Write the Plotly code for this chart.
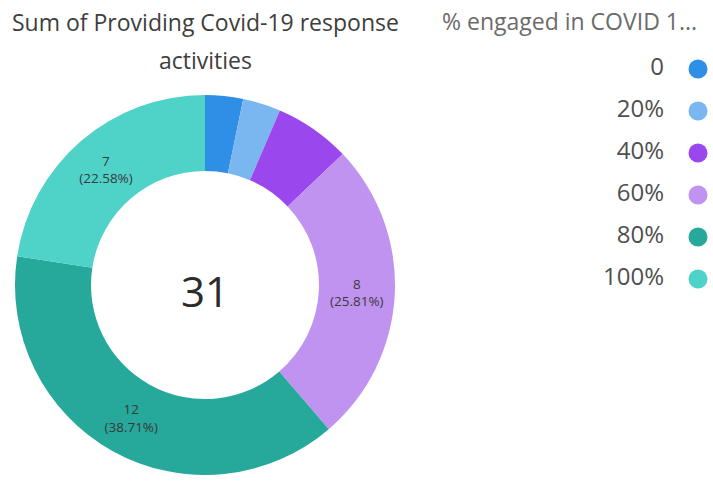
import plotly.graph_objects as go

# Data
categories = ["0", "20%", "40%", "60%", "80%", "100%"]
counts = [1, 1, 2, 8, 12, 7]
colors = ["#2f8fe6", "#7ab6ef", "#9b47ee", "#bf93ef", "#26a89b", "#4fd2c7"]
chart_title = ["Sum of Providing Covid-19 response", "activities"]
legend_title = "% engaged in COVID 1..."

W, H = 713, 481
total = sum(counts)

# slice labels: value and share, only on the wide slices
slice_text = [
    f"{v}<br>({v / total * 100:.2f}%)" if v / total > 0.1 else ""
    for v in counts
]

cx, cy, r = 205, 285, 190  # donut centre and radius in pixels

fig = go.Figure()
fig.add_trace(go.Pie(
    labels=categories,
    values=counts,
    text=slice_text,
    textinfo="text",
    textposition="inside",
    insidetextorientation="horizontal",
    textfont=dict(size=13.5, color="#3a3a3a", family="Open Sans"),
    marker=dict(colors=colors, line=dict(width=0)),
    hole=0.6,
    sort=False,
    direction="clockwise",
    rotation=0,
    showlegend=False,
    hoverinfo="label+value+percent",
    domain=dict(x=[(cx - r) / W, (cx + r) / W],
                y=[(H - cy - r) / H, (H - cy + r) / H]),
))

# legend: right-aligned labels with round swatches to their right
leg_marker_x, leg_text_x = 698, 664
leg_y = [69 + i * 42 for i in range(len(categories))]
fig.add_trace(go.Scatter(
    x=[leg_marker_x] * len(categories), y=leg_y,
    mode="markers",
    marker=dict(size=19, color=colors),
    showlegend=False, hoverinfo="skip",
))
fig.add_trace(go.Scatter(
    x=[leg_text_x] * len(categories), y=leg_y,
    mode="text",
    text=categories,
    textposition="middle left",
    textfont=dict(size=24, color="#4f4f4f", family="Open Sans"),
    showlegend=False, hoverinfo="skip",
))

fig.update_layout(
    width=W, height=H,
    margin=dict(l=0, r=0, t=0, b=0),
    paper_bgcolor="white",
    plot_bgcolor="rgba(0,0,0,0)",
    xaxis=dict(range=[0, W], visible=False, fixedrange=True, domain=[0, 1]),
    yaxis=dict(range=[H, 0], visible=False, fixedrange=True, domain=[0, 1]),
    annotations=[
        dict(x=205, y=22, xref="x", yref="y", text=chart_title[0],
             showarrow=False, font=dict(size=23, color="#3e3e3c", family="Open Sans")),
        dict(x=205, y=60, xref="x", yref="y", text=chart_title[1],
             showarrow=False, font=dict(size=23, color="#3e3e3c", family="Open Sans")),
        dict(x=699, y=21, xref="x", yref="y", text=legend_title, xanchor="right",
             showarrow=False, font=dict(size=23, color="#6b6b6b", family="Open Sans")),
        dict(x=cx, y=cy + 5, xref="x", yref="y", text=str(total),
             showarrow=False, font=dict(size=42, color="#2b2b2b", family="Open Sans")),
    ],
)

fig.write_html("out.html")
